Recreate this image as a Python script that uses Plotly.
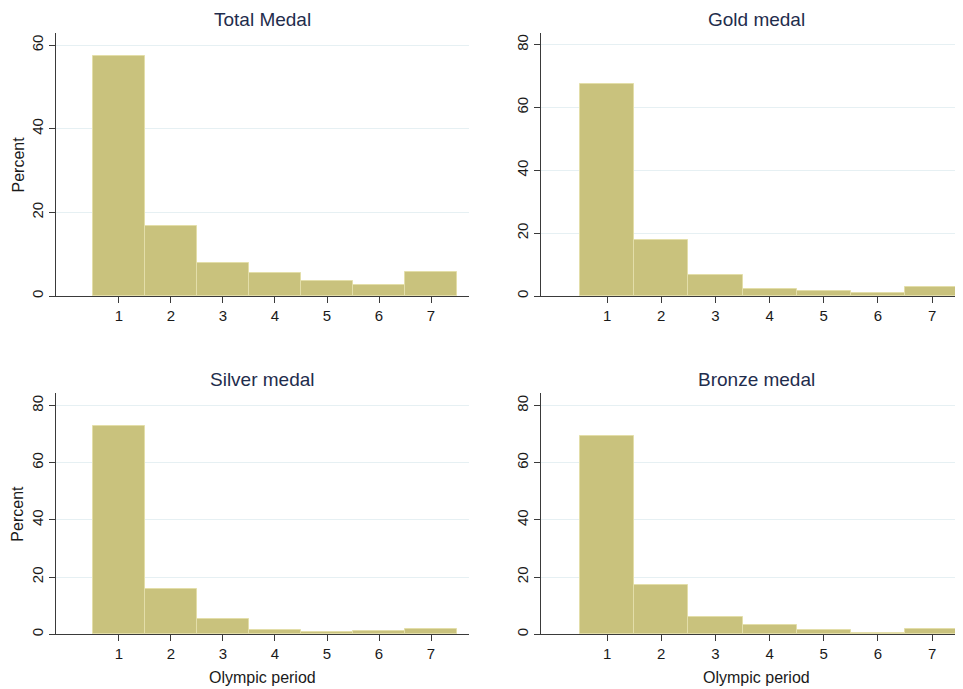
import plotly.graph_objects as go

periods = [1, 2, 3, 4, 5, 6, 7]
total_pct = [57.4, 16.7, 7.8, 5.6, 3.7, 2.6, 5.7]
gold_pct = [67.5, 17.7, 6.6, 2.3, 1.6, 0.9, 2.8]
silver_pct = [72.7, 15.9, 5.4, 1.4, 0.8, 1.0, 1.9]
bronze_pct = [69.5, 17.2, 6.1, 3.2, 1.4, 0.4, 1.8]

titles = ["Total Medal", "Gold medal", "Silver medal", "Bronze medal"]
y_ticks_total = [0, 20, 40, 60]
y_ticks_other = [0, 20, 40, 60, 80]

BAR = "#c9c27d"
EDGE = "#e3dea9"
GRID = "#e6f0f3"
AXIS = "#3a3a3a"
TXT = "#1a1a1a"
TITLE = "#1f2d4d"
FONT = "Liberation Sans, Arial, sans-serif"

OFF = 8  # page body margin
W, H = 963 - OFF, 689 - OFF

def px(x):
    return (x - OFF) / W

def py(y):
    return 1 - (y - OFF) / H

# window-pixel plot boxes: (x0, x1, y_top, y_bottom)
boxes = [
    (56, 469, 33, 296),
    (541, 963, 33, 296),
    (56, 469, 393, 634.3),
    (541, 963, 393, 634.3),
]
xranges = [[-0.21, 7.73], [-0.22, 7.57], [-0.21, 7.73], [-0.22, 7.57]]
yranges = [[0, 62.9], [0, 83.7], [0, 84.4], [0, 84.4]]
data = [total_pct, gold_pct, silver_pct, bronze_pct]
yticks = [y_ticks_total, y_ticks_other, y_ticks_other, y_ticks_other]

fig = go.Figure()
layout = dict(
    width=W, height=H,
    margin=dict(l=0, r=0, t=0, b=0),
    paper_bgcolor="white", plot_bgcolor="white",
    showlegend=False,
    font=dict(family=FONT, color=TXT, size=13),
    bargap=0,
)
annotations = []
for i, (vals, box, xr, yr, yt, title) in enumerate(zip(data, boxes, xranges, yranges, yticks, titles)):
    k = "" if i == 0 else str(i + 1)
    x0, x1, yt0, yb = box
    dx = [px(x0), min(px(x1), 1.0)]
    dy = [py(yb), py(yt0)]
    fig.add_trace(go.Bar(
        x=periods, y=vals, width=1.0,
        marker=dict(color=BAR, line=dict(color=EDGE, width=1)),
        xaxis="x" + k, yaxis="y" + k,
        hoverinfo="x+y",
    ))
    layout["xaxis" + k] = dict(
        domain=dx, range=xr, anchor="y" + k,
        tickmode="array", tickvals=periods, ticktext=[str(p) for p in periods],
        showgrid=False, zeroline=False,
        showline=True, linecolor=AXIS, linewidth=1,
        ticks="outside", ticklen=6, tickcolor=AXIS, tickwidth=1,
        tickfont=dict(size=15, color=TXT, family=FONT),
        automargin=False,
    )
    layout["yaxis" + k] = dict(
        domain=dy, range=yr, anchor="x" + k,
        tickmode="array", tickvals=yt, ticktext=[str(v) for v in yt],
        showgrid=True, gridcolor=GRID, gridwidth=1,
        zeroline=False,
        showline=True, linecolor=AXIS, linewidth=1,
        ticks="outside", ticklen=6, tickcolor=AXIS, tickwidth=1,
        tickangle=-90,
        tickfont=dict(size=15, color=TXT, family=FONT),
        automargin=False,
    )
    cx = (x0 + (x1 if i in (0, 2) else 972)) / 2
    annotations.append(dict(
        text=title, x=px(cx), y=py(yt0 - 14),
        xref="paper", yref="paper", xanchor="center", yanchor="middle",
        showarrow=False, font=dict(size=19, color=TITLE, family=FONT),
    ))
    if i in (0, 2):
        annotations.append(dict(
            text="Percent", x=px(18), y=py((yt0 + yb) / 2),
            xref="paper", yref="paper", xanchor="center", yanchor="middle",
            textangle=-90, showarrow=False, font=dict(size=16, color=TXT, family=FONT),
        ))
    if i >= 2:
        annotations.append(dict(
            text="Olympic period", x=px(cx), y=py(677),
            xref="paper", yref="paper", xanchor="center", yanchor="middle",
            showarrow=False, font=dict(size=16, color=TXT, family=FONT),
        ))
layout["annotations"] = annotations
fig.update_layout(**layout)
fig.write_html("out.html")
